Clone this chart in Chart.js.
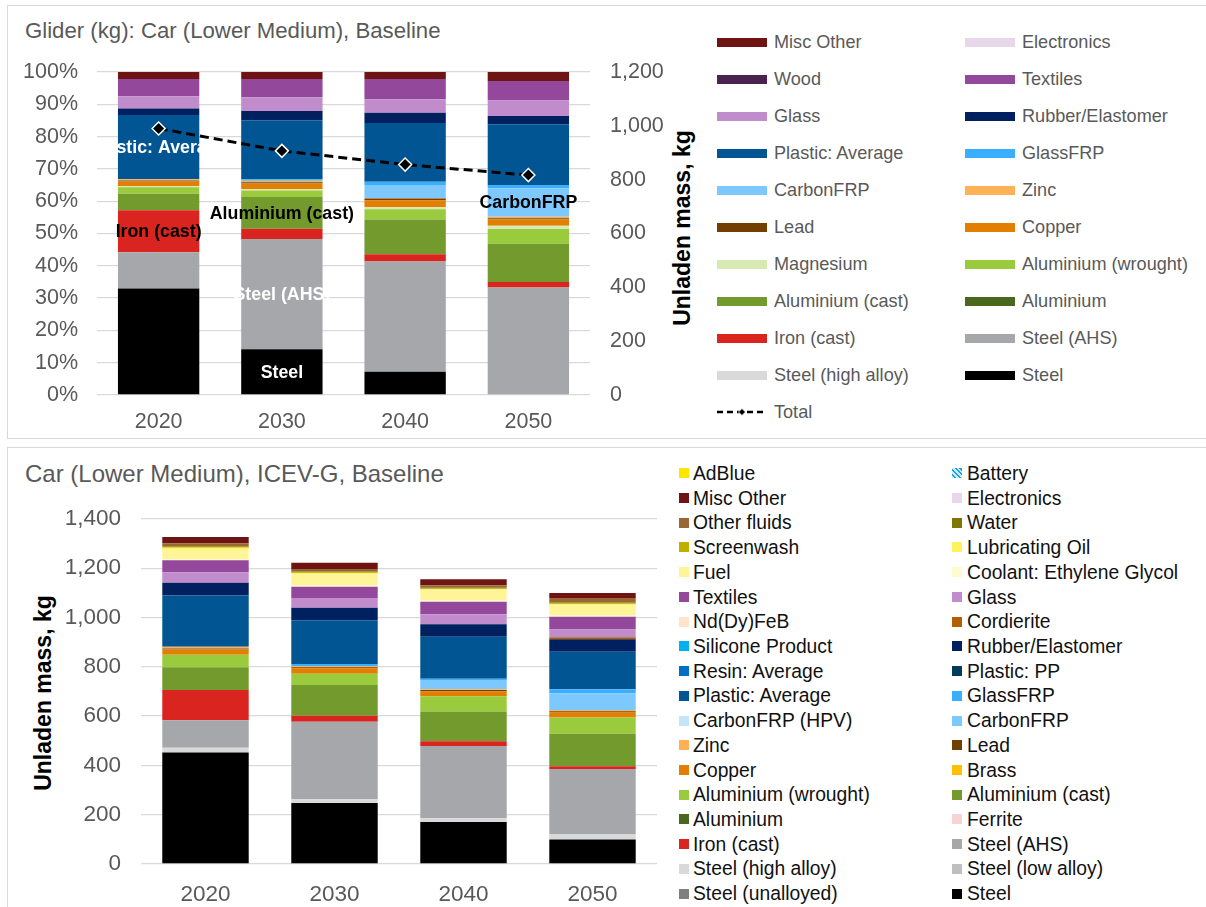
<!DOCTYPE html>
<html>
<head>
<meta charset="utf-8">
<script src="https://cdn.jsdelivr.net/npm/chart.js@4.4.1/dist/chart.umd.min.js"></script>
<style>
  body { margin: 0; width: 1206px; height: 907px; overflow: hidden; background: #fff; position: relative;
         font-family: 'Liberation Sans', Arial, sans-serif; }
  .panel { position: absolute; border: 1.5px solid #d9d9d9; box-sizing: border-box; }
  canvas { position: absolute; }
  .title { position: absolute; color: #595959; white-space: nowrap; line-height: 1; }
  .ytitle { position: absolute; font-weight: bold; color: #000; white-space: nowrap; line-height: 1;
            transform: translate(-50%, -50%) rotate(-90deg); }
  .lt { position: absolute; white-space: nowrap; line-height: 1; }
  .sw { position: absolute; }
</style>
</head>
<body>
<div class="panel" style="left:7px;top:5px;width:1220px;height:434px"></div>
<div class="panel" style="left:7px;top:447px;width:1220px;height:480px"></div>

<div class="title" style="left:25px;top:20px;font-size:22.2px">Glider (kg): Car (Lower Medium), Baseline</div>
<div class="title" style="left:25px;top:462px;font-size:24px">Car (Lower Medium), ICEV-G, Baseline</div>
<div class="ytitle" style="left:682px;top:228px;font-size:23px">Unladen mass, kg</div>
<div class="ytitle" style="left:43px;top:693px;font-size:23px">Unladen mass, kg</div>

<canvas id="glider" width="690" height="428" style="left:8px;top:8px"></canvas>
<canvas id="vehicle" width="660" height="457" style="left:8px;top:450px"></canvas>
<div id="legend1"></div>
<div id="legend2"></div>

<script>
Chart.defaults.font.family = "'Liberation Sans', Arial, sans-serif";
Chart.defaults.color = '#595959';

const years = ['2020', '2030', '2040', '2050'];

// === GLIDER: share of glider mass (%), stacking order bottom -> top ===
const gliderSeries = ['Steel', 'Steel (high alloy)', 'Steel (AHS)', 'Iron (cast)', 'Aluminium', 'Aluminium (cast)',
  'Aluminium (wrought)', 'Magnesium', 'Copper', 'Lead', 'Zinc', 'CarbonFRP', 'GlassFRP', 'Plastic: Average',
  'Rubber/Elastomer', 'Glass', 'Textiles', 'Wood', 'Electronics', 'Misc Other'];
const gliderColors = ['#000000', '#d9d9d9', '#a6a7aa', '#da2420', '#4a671e', '#739a2c',
  '#9acb3c', '#d7eab4', '#e37f00', '#733f00', '#ffb155', '#7dc8ff', '#3aaeff', '#005592',
  '#00205f', '#c18ccb', '#93489b', '#4a2350', '#e8d6ea', '#6e1412'];
const glider2020 = [32.9, 0, 11.2, 13.0, 0, 5.1, 2.0, 0.3, 1.5, 0.3, 0.4, 0, 0, 19.8, 2.0, 3.8, 5.3, 0, 0, 2.2];
const glider2030 = [14.2, 0, 34.1, 3.2, 0, 9.8, 2.0, 0.4, 1.8, 0.4, 0.4, 0, 0.5, 18.3, 2.8, 4.3, 5.6, 0, 0, 2.2];
const glider2040 = [7.2, 0, 34.1, 2.3, 0, 10.7, 3.2, 0.6, 2.2, 0.5, 0.2, 4.0, 1.0, 18.2, 3.2, 4.2, 6.2, 0, 0, 2.2];
const glider2050 = [0, 0, 33.3, 1.7, 0, 11.8, 4.6, 1.0, 2.0, 0.3, 0.5, 8.8, 1.0, 18.8, 2.6, 4.8, 6.0, 0, 0, 2.8];
const gliderTotal = [990, 907, 856, 817];
const gliderPctTicks = [0, 10, 20, 30, 40, 50, 60, 70, 80, 90, 100];
const gliderKgTicks = [0, 200, 400, 600, 800, 1000, 1200];
// series name, year index, text colour
const gliderLabels = [['Plastic: Average', 0, '#fff'], ['Iron (cast)', 0, '#000'], ['Steel', 1, '#fff'],
  ['Steel (AHS)', 1, '#fff'], ['Aluminium (cast)', 1, '#000'], ['CarbonFRP', 3, '#000']];

// === WHOLE VEHICLE: kg, stacking order bottom -> top ===
const vehicleSeries = ['Steel', 'Steel (unalloyed)', 'Steel (low alloy)', 'Steel (high alloy)', 'Steel (AHS)',
  'Iron (cast)', 'Ferrite', 'Aluminium', 'Aluminium (cast)', 'Aluminium (wrought)', 'Brass', 'Copper', 'Lead',
  'Zinc', 'CarbonFRP', 'CarbonFRP (HPV)', 'GlassFRP', 'Plastic: Average', 'Plastic: PP', 'Resin: Average',
  'Rubber/Elastomer', 'Silicone Product', 'Cordierite', 'Nd(Dy)FeB', 'Glass', 'Textiles',
  'Coolant: Ethylene Glycol', 'Fuel', 'Lubricating Oil', 'Screenwash', 'Water', 'Other fluids', 'Electronics',
  'Misc Other', 'Battery', 'AdBlue'];
const vehicleColors = ['#000000', '#7f7f7f', '#bfbfbf', '#d9d9d9', '#a6a7aa',
  '#da2420', '#f8d3d3', '#4a671e', '#739a2c', '#9acb3c', '#ffc000', '#e37f00', '#733f00',
  '#ffb155', '#7dc8ff', '#c5e5fb', '#3aaeff', '#005592', '#003b5c', '#0070c0',
  '#00205f', '#00b0f0', '#b35e00', '#ffe3cb', '#c18ccb', '#93489b',
  '#fffbd0', '#fff598', '#fff25a', '#bfb000', '#7f7600', '#9a6634', '#e8d6ea',
  '#6e1412', 'hatch', '#ffe600'];
const vehicle2020 = [452, 0, 0, 20, 111, 123, 0, 0, 92, 51, 0, 21, 5, 7, 0, 0, 0, 208, 0, 0, 51, 0, 0, 0, 43, 49, 5, 40, 5, 4, 3, 12, 0, 25, 0, 0];
const vehicle2030 = [248, 0, 0, 15, 314, 25, 0, 0, 124, 46, 0, 22, 4, 5, 0, 0, 9, 177, 0, 0, 51, 0, 0, 0, 39, 46, 6, 45, 5, 3, 3, 10, 0, 25, 0, 0];
const vehicle2040 = [170, 0, 0, 16, 293, 19, 0, 0, 121, 62, 0, 20, 5, 3, 38, 0, 5, 170, 0, 0, 51, 0, 0, 0, 40, 51, 6, 40, 5, 3, 3, 10, 0, 25, 0, 0];
const vehicle2050 = [99, 0, 0, 21, 266, 11, 0, 0, 132, 66, 0, 20, 5, 5, 68, 0, 16, 152, 0, 0, 51, 0, 8, 0, 32, 51, 5, 42, 5, 3, 3, 18, 0, 21, 0, 0];
const vehicleTicks = [0, 200, 400, 600, 800, 1000, 1200, 1400];

// === AUXILIARES ===
const fmt = v => v.toLocaleString('en-US');
const hatchCss = 'repeating-linear-gradient(45deg, #c8ecfb 0 1.5px, #1ba1e2 1.5px 3.5px)';
const hatchPattern = () => {
  const c = document.createElement('canvas'); c.width = c.height = 6;
  const g = c.getContext('2d');
  g.fillStyle = '#c8ecfb'; g.fillRect(0, 0, 6, 6);
  g.strokeStyle = '#1ba1e2'; g.lineWidth = 2;
  g.beginPath(); g.moveTo(0, 0); g.lineTo(6, 6); g.moveTo(-3, 3); g.lineTo(3, 9); g.moveTo(3, -3); g.lineTo(9, 3); g.stroke();
  return g.createPattern(c, 'repeat');
};

const gliderYears = [glider2020, glider2030, glider2040, glider2050];
const gliderSums = gliderYears.map(a => a.reduce((s, v) => s + v, 0));
const gliderBars = gliderSeries.map((name, i) => ({
  label: name,
  data: gliderYears.map((a, j) => a[i] / gliderSums[j] * 100),
  backgroundColor: gliderColors[i],
  borderWidth: 0, order: 1, yAxisID: 'y'
}));

const vehicleYears = [vehicle2020, vehicle2030, vehicle2040, vehicle2050];
const vehicleBars = vehicleSeries.map((name, i) => ({
  label: name,
  data: vehicleYears.map(a => a[i]),
  backgroundColor: vehicleColors[i] === 'hatch' ? hatchPattern() : vehicleColors[i],
  swatch: vehicleColors[i] === 'hatch' ? hatchCss : vehicleColors[i],
  borderWidth: 0
}));

const segmentLabels = {
  id: 'segmentLabels',
  afterDatasetsDraw(chart) {
    const ctx = chart.ctx;
    ctx.save();
    ctx.font = "bold 17.8px 'Liberation Sans', Arial, sans-serif";
    ctx.textAlign = 'center';
    ctx.textBaseline = 'middle';
    gliderLabels.forEach(([name, yi, color]) => {
      const di = chart.data.datasets.findIndex(d => d.label === name);
      const bar = chart.getDatasetMeta(di).data[yi];
      ctx.fillStyle = color;
      ctx.fillText(name, bar.x, (bar.y + bar.base) / 2 + 1);
    });
    ctx.restore();
  }
};

// === GRAFICO 1: GLIDER ===
new Chart(document.getElementById('glider'), {
  type: 'bar',
  data: {
    labels: years,
    datasets: [...gliderBars, {
      type: 'line', label: 'Total', data: gliderTotal, yAxisID: 'y2', order: 0,
      borderColor: '#000', borderWidth: 3, borderDash: [9, 5], fill: false, tension: 0,
      pointStyle: 'rectRot', pointRadius: 6.5, pointBackgroundColor: '#000',
      pointBorderColor: '#fff', pointBorderWidth: 1.5
    }]
  },
  options: {
    responsive: false, animation: false,
    layout: { padding: { top: 64, left: 0, right: 0, bottom: 0 } },
    datasets: { bar: { barPercentage: 0.66, categoryPercentage: 1 } },
    plugins: { legend: { display: false }, tooltip: { enabled: false } },
    scales: {
      x: { stacked: true, grid: { display: false }, border: { display: false },
           ticks: { font: { size: 21.5 }, padding: 6.5 }, afterFit: s => { s.height = 41; } },
      y: { stacked: true, min: 0, max: 100,
           afterBuildTicks: s => { s.ticks = gliderPctTicks.map(v => ({ value: v })); },
           ticks: { font: { size: 21.5 }, padding: 19, callback: v => v + '%' },
           grid: { color: '#d9d9d9', lineWidth: 1.3, drawTicks: false }, border: { display: false },
           afterFit: s => { s.width = 89; } },
      y2: { position: 'right', min: 0, max: 1200,
            afterBuildTicks: s => { s.ticks = gliderKgTicks.map(v => ({ value: v })); },
            ticks: { font: { size: 21.5 }, padding: 12, callback: v => fmt(v) },
            grid: { display: false }, border: { display: false },
            afterFit: s => { s.width = 108; } }
    }
  },
  plugins: [segmentLabels]
});

// === GRAFICO 2: VEICULO ===
new Chart(document.getElementById('vehicle'), {
  type: 'bar',
  data: { labels: years, datasets: vehicleBars },
  options: {
    responsive: false, animation: false,
    layout: { padding: { top: 69, left: 0, right: 11, bottom: 0 } },
    datasets: { bar: { barPercentage: 0.67, categoryPercentage: 1 } },
    plugins: { legend: { display: false }, tooltip: { enabled: false } },
    scales: {
      x: { stacked: true, grid: { display: false }, border: { display: false },
           ticks: { font: { size: 22.5 }, padding: 9.5 }, afterFit: s => { s.height = 43; } },
      y: { stacked: true, min: 0, max: 1400,
           afterBuildTicks: s => { s.ticks = vehicleTicks.map(v => ({ value: v })); },
           ticks: { font: { size: 22.5 }, padding: 20, callback: v => fmt(v) },
           grid: { color: '#d9d9d9', lineWidth: 1.3, drawTicks: false }, border: { display: false },
           afterFit: s => { s.width = 133; } }
    }
  }
});

// === LEGENDAS ===
const legend1 = document.getElementById('legend1');
const items1 = gliderBars.slice().reverse().map(d => ({ label: d.label, swatch: d.backgroundColor })).concat([{ label: 'Total', line: true }]);
items1.forEach((it, k) => {
  const row = Math.floor(k / 2), col = k % 2;
  const y = 42 + row * 37;
  const sx = [717, 965][col], tx = [774, 1022][col];
  if (it.line) {
    legend1.insertAdjacentHTML('beforeend',
      `<svg class="sw" style="left:${sx}px;top:${y - 6}px" width="50" height="12">
         <line x1="0" y1="6" x2="50" y2="6" stroke="#000" stroke-width="2.5" stroke-dasharray="6,4"/>
         <path d="M25 2.5 L28.5 6 L25 9.5 L21.5 6 Z" fill="#000" stroke="#fff" stroke-width="0.8"/></svg>`);
  } else {
    legend1.insertAdjacentHTML('beforeend',
      `<div class="sw" style="left:${sx}px;top:${y - 4.5}px;width:50px;height:9px;background:${it.swatch}"></div>`);
  }
  legend1.insertAdjacentHTML('beforeend',
    `<div class="lt" style="left:${tx}px;top:${y - 8.8}px;font-size:18.1px;color:#595959">${it.label}</div>`);
});

const legend2 = document.getElementById('legend2');
vehicleBars.slice().reverse().forEach((d, k) => {
  const row = Math.floor(k / 2), col = k % 2;
  const y = 473.3 + row * 24.72;
  const sx = [679, 952][col], tx = [693, 967][col];
  legend2.insertAdjacentHTML('beforeend',
    `<div class="sw" style="left:${sx}px;top:${y - 5}px;width:10px;height:10px;background:${d.swatch}"></div>` +
    `<div class="lt" style="left:${tx}px;top:${y - 9.4}px;font-size:19.3px;color:#111">${d.label}</div>`);
});
</script>
</body>
</html>
